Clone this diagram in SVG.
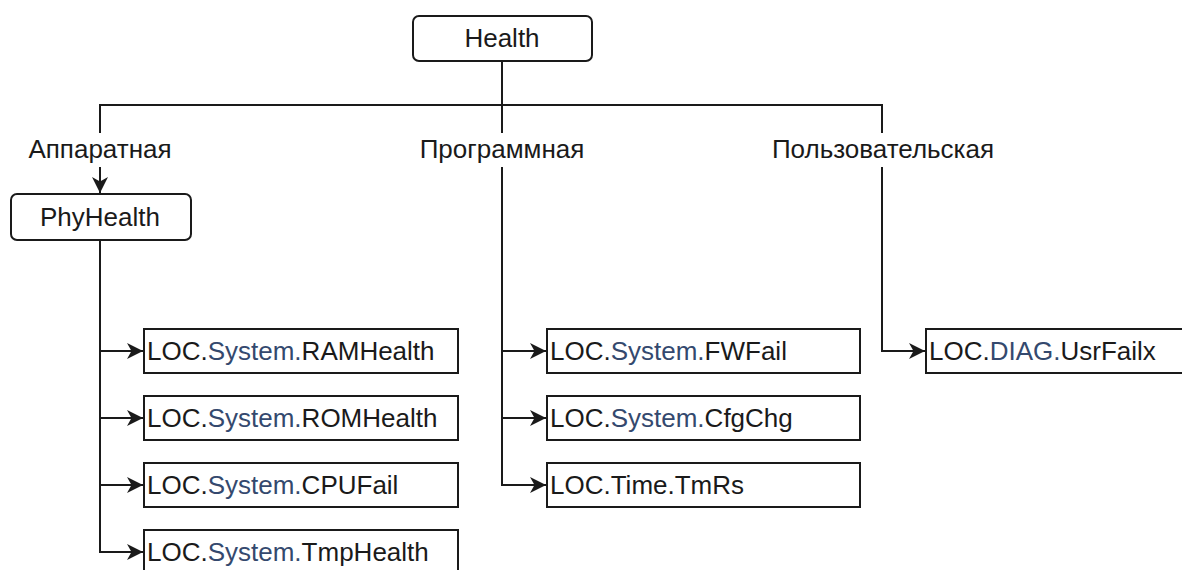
<svg xmlns="http://www.w3.org/2000/svg" width="1182" height="570" viewBox="0 0 1182 570">
<style>
.node{fill:#fff;stroke:#1a1a1a;stroke-width:2}
.t{font-family:"Liberation Sans",Arial,sans-serif;font-size:26px;fill:#1a1a1a}
.c{text-anchor:middle}
.b{fill:#34496e}
.e{fill:none;stroke:#1a1a1a;stroke-width:2}
.lbg{fill:#fff}
</style>
<defs>
<marker id="arr" markerUnits="userSpaceOnUse" markerWidth="18" markerHeight="18" refX="16" refY="8.5" orient="auto">
<path d="M0,0.5 L16,8.5 L0,16.5 L4.5,8.5 Z" fill="#1a1a1a"/>
</marker>
</defs>
<rect width="1182" height="570" fill="#fff"/>
<g id="connectors">
<path class="e" d="M502,61 V105 H100 V193" marker-end="url(#arr)"/>
<path class="e" d="M502,105 H882 V351 H925" marker-end="url(#arr)"/>
<path class="e" d="M502,105 V351 H546" marker-end="url(#arr)"/>
<path class="e" d="M502,351 V418 H546" marker-end="url(#arr)"/>
<path class="e" d="M502,418 V485 H546" marker-end="url(#arr)"/>
<path class="e" d="M100,240 V351 H143" marker-end="url(#arr)"/>
<path class="e" d="M100,351 V418 H143" marker-end="url(#arr)"/>
<path class="e" d="M100,418 V485 H143" marker-end="url(#arr)"/>
<path class="e" d="M100,485 V552 H143" marker-end="url(#arr)"/>
<rect class="lbg" x="22" y="133" width="156" height="34"/>
<text class="t c" x="100" y="158">Аппаратная</text>
<rect class="lbg" x="413" y="133" width="178" height="34"/>
<text class="t c" x="502" y="158">Программная</text>
<rect class="lbg" x="767" y="133" width="232" height="34"/>
<text class="t c" x="883" y="158">Пользовательская</text>
</g>
<g id="health">
<rect class="node" x="413" y="16" width="179" height="45" rx="6"/>
<text class="t c" x="502" y="47">Health</text>
</g>
<g id="phyhealth">
<rect class="node" x="11" y="194" width="180" height="46" rx="6"/>
<text class="t c" x="100" y="226">PhyHealth</text>
</g>
<g id="ramhealth">
<rect class="node" x="144" y="329" width="314" height="44"/>
<text class="t" x="147" y="360">LOC.<tspan class="b">System.</tspan>RAMHealth</text>
</g>
<g id="romhealth">
<rect class="node" x="144" y="396" width="314" height="44"/>
<text class="t" x="147" y="427">LOC.<tspan class="b">System.</tspan>ROMHealth</text>
</g>
<g id="cpufail">
<rect class="node" x="144" y="463" width="314" height="44"/>
<text class="t" x="147" y="494">LOC.<tspan class="b">System.</tspan>CPUFail</text>
</g>
<g id="tmphealth">
<rect class="node" x="144" y="530" width="314" height="44"/>
<text class="t" x="147" y="561">LOC.<tspan class="b">System.</tspan>TmpHealth</text>
</g>
<g id="fwfail">
<rect class="node" x="547" y="329" width="313" height="44"/>
<text class="t" x="550" y="360">LOC.<tspan class="b">System.</tspan>FWFail</text>
</g>
<g id="cfgchg">
<rect class="node" x="547" y="396" width="313" height="44"/>
<text class="t" x="550" y="427">LOC.<tspan class="b">System.</tspan>CfgChg</text>
</g>
<g id="tmrs">
<rect class="node" x="547" y="463" width="313" height="44"/>
<text class="t" x="550" y="494">LOC.Time.TmRs</text>
</g>
<g id="usrfailx">
<rect class="node" x="926" y="329" width="314" height="44"/>
<text class="t" x="929" y="360">LOC.<tspan class="b">DIAG.</tspan>UsrFailx</text>
</g>
</svg>
